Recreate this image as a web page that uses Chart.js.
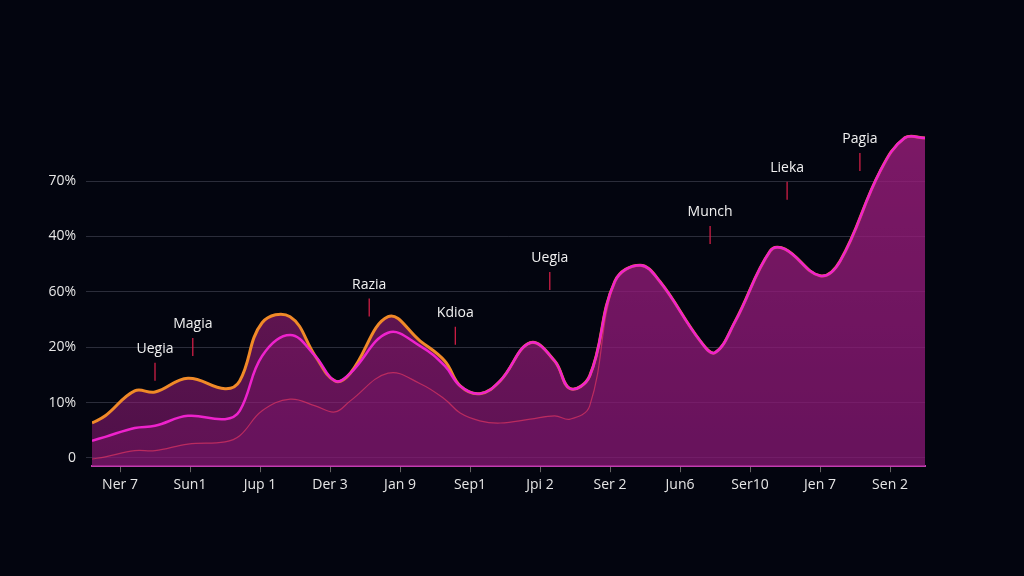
<!DOCTYPE html>
<html><head><meta charset="utf-8">
<script src="https://cdn.jsdelivr.net/npm/chart.js@4"></script>
<style>html,body{margin:0;background:#03050f;}#c{display:block}</style>
</head><body><canvas id="c" width="1024" height="576"></canvas>
<script>
const xLabels = ["Ner 7","Sun1","Jup 1","Der 3","Jan 9","Sep1","Jpi 2","Ser 2","Jun6","Ser10","Jen 7","Sen 2"];
const yLabels = ["0","10%","20%","60%","40%","70%"];
const xs = [-0.40,-0.21,0.21,0.50,0.97,1.50,1.71,2.03,2.43,2.79,3.07,3.29,3.83,4.29,4.64,4.86,5.14,5.43,5.86,6.21,6.43,6.71,7.07,7.43,7.71,8.29,8.50,8.79,9.29,9.50,10.0,10.29,10.86,11.21,11.5];
const topSeries = [0.63,0.76,1.21,1.19,1.44,1.25,1.39,2.44,2.55,1.84,1.39,1.53,2.55,2.11,1.75,1.30,1.16,1.39,2.08,1.75,1.25,1.48,3.19,3.48,3.19,2.11,1.90,2.47,3.74,3.77,3.29,3.56,5.18,5.78,5.78];
const midSeries = [0.31,0.38,0.54,0.58,0.76,0.70,0.85,1.84,2.22,1.84,1.39,1.53,2.26,2.02,1.66,1.30,1.16,1.39,2.08,1.75,1.25,1.48,3.19,3.48,3.19,2.11,1.90,2.47,3.74,3.77,3.29,3.56,5.18,5.78,5.78];
const lowSeries = [-0.02,0.02,0.13,0.13,0.25,0.29,0.40,0.85,1.06,0.94,0.83,1.03,1.53,1.34,1.06,0.81,0.67,0.63,0.70,0.76,0.70,0.94,3.19,3.48,3.19,2.11,1.90,2.47,3.74,3.77,3.29,3.56,5.18,5.78,5.78];
const annText = ["Uegia","Magia","Razia","Kdioa","Uegia","Munch","Lieka","Pagia"];
const annX = [0.50,1.04,3.56,4.79,6.14,8.43,9.53,10.57];
const annY = [1.97,2.42,3.13,2.62,3.61,4.44,5.24,5.76];

const pts = s => xs.map((x,i)=>({x, y:s[i]}));
const ctx = document.getElementById('c').getContext('2d');
function grad(a1,a2){const g=ctx.createLinearGradient(0,134,0,465);g.addColorStop(0,a1);g.addColorStop(1,a2);return g;}

const annPlugin = {id:'ann', afterDatasetsDraw(chart){
  const c=chart.ctx, xs_=chart.scales.x, ys=chart.scales.y;
  c.save(); c.font='14px "Open Sans", sans-serif'; c.fillStyle='#f2f2f2'; c.textAlign='center'; c.textBaseline='middle';
  annText.forEach((t,i)=>{
    const px=xs_.getPixelForValue(annX[i]), py=ys.getPixelForValue(annY[i]);
    c.fillText(t,px,py);
    c.strokeStyle='#e0204a'; c.lineWidth=1.2; c.beginPath(); c.moveTo(px,py+14); c.lineTo(px,py+32); c.stroke();
  });
  c.restore();
}};

new Chart(ctx,{type:'line',
 data:{datasets:[
  {data:pts(topSeries),order:3,borderColor:'#f08a28',borderWidth:3,fill:'start',backgroundColor:grad('rgba(190,40,140,0.6)','rgba(140,25,120,0.55)'),tension:0.4,pointRadius:0},
  {data:pts(midSeries),order:1,borderColor:'#ee22cc',borderWidth:2.5,fill:'start',backgroundColor:'rgba(160,30,130,0.2)',tension:0.4,pointRadius:0},
  {data:pts(lowSeries),order:2,borderColor:'rgba(240,60,90,0.7)',borderWidth:1.2,fill:'start',backgroundColor:'rgba(120,20,110,0.3)',tension:0.4,pointRadius:0}
 ]},
 options:{responsive:false,animation:false,
  layout:{padding:{top:134,right:99,bottom:79,left:0}},
  plugins:{legend:{display:false},tooltip:{enabled:false}},
  scales:{
   x:{type:'linear',min:-0.4,max:11.5,
      afterBuildTicks(ax){ax.ticks=xLabels.map((_,i)=>({value:i}));},
      ticks:{callback:v=>xLabels[v],color:'#e6e6e6',font:{size:14,family:'"Open Sans", sans-serif'},padding:4,maxRotation:0,autoSkip:false},
      grid:{display:true,drawOnChartArea:false,color:'#666',tickLength:6},
      border:{color:'#c040b0',width:2}},
   y:{min:-0.15,max:5.85,
      afterBuildTicks(ax){ax.ticks=yLabels.map((_,i)=>({value:i}));},
      afterFit(ax){ax.width=92;},
      ticks:{callback:v=>yLabels[v],color:'#e6e6e6',font:{size:14,family:'"Open Sans", sans-serif'},padding:10},
      grid:{color:'rgba(120,120,140,0.35)',tickLength:6},
      border:{display:false}}
  }},
 plugins:[annPlugin]});
</script></body></html>
